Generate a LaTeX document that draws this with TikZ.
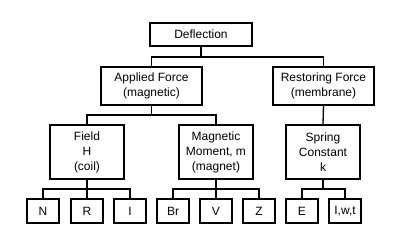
\documentclass[tikz,border=0pt]{standalone}
\usepackage{fontspec}
\setsansfont{Liberation Sans}
\usepackage{tikz}

\begin{document}
\begin{tikzpicture}[x=1pt, y=-1pt, line width=1.3pt,
    box/.style={draw, inner sep=0pt, align=center, font=\sffamily\fontsize{12}{15}\selectfont},
    topbox/.style={box, minimum width=102pt, minimum height=23pt},
    forcebox/.style={box, minimum width=101pt, minimum height=38pt},
    midbox/.style={box, minimum width=74pt, minimum height=54pt},
    leafbox/.style={box, minimum width=32pt, minimum height=24pt}]
    \useasboundingbox (0, 0) rectangle (400, 238);

    \node[topbox] (defl) at (201, 34.5) {Deflection};

    \node[forcebox] (applied) at (151.5, 86) {Applied Force\\(magnetic)};
    \node[forcebox] (restoring) at (323.5, 86) {Restoring Force\\(membrane)};

    \node[midbox] (field) at (87, 152) {Field\\H\\(coil)};
    \node[midbox] (moment) at (216, 152) {Magnetic\\Moment, m\\(magnet)};
    \node[midbox] (spring) at (323, 152) {Spring\\Constant\\k};

    \node[leafbox] (n) at (43, 211) {N};
    \node[leafbox] (r) at (87, 211) {R};
    \node[leafbox] (i) at (130, 211) {I};
    \node[leafbox] (br) at (173, 211) {Br};
    \node[leafbox] (v) at (216, 211) {V};
    \node[leafbox] (z) at (259, 211) {Z};
    \node[leafbox] (e) at (302, 211) {E};
    \node[leafbox] (iwt) at (345, 211) {I,w,t};

    % junctions of the tree
    \coordinate (j1) at (201, 57);
    \coordinate (j2) at (151.5, 115);
    \coordinate (j3) at (87, 189);
    \coordinate (j4) at (216, 189);
    \coordinate (j5) at (323, 189);

    \draw (defl.south) -- (j1);
    \draw (applied.north) |- (j1) -| (restoring.north);

    \draw (applied.south) -- (j2);
    \draw (field.north) |- (j2) -| (moment.north);
    \draw (restoring.south) -- (spring.north);

    \draw (field.south) -- (r.north);
    \draw (n.north) |- (j3) -| (i.north);
    \draw (moment.south) -- (v.north);
    \draw (br.north) |- (j4) -| (z.north);
    \draw (spring.south) -- (j5);
    \draw (e.north) |- (j5) -| (iwt.north);
\end{tikzpicture}
\end{document}
